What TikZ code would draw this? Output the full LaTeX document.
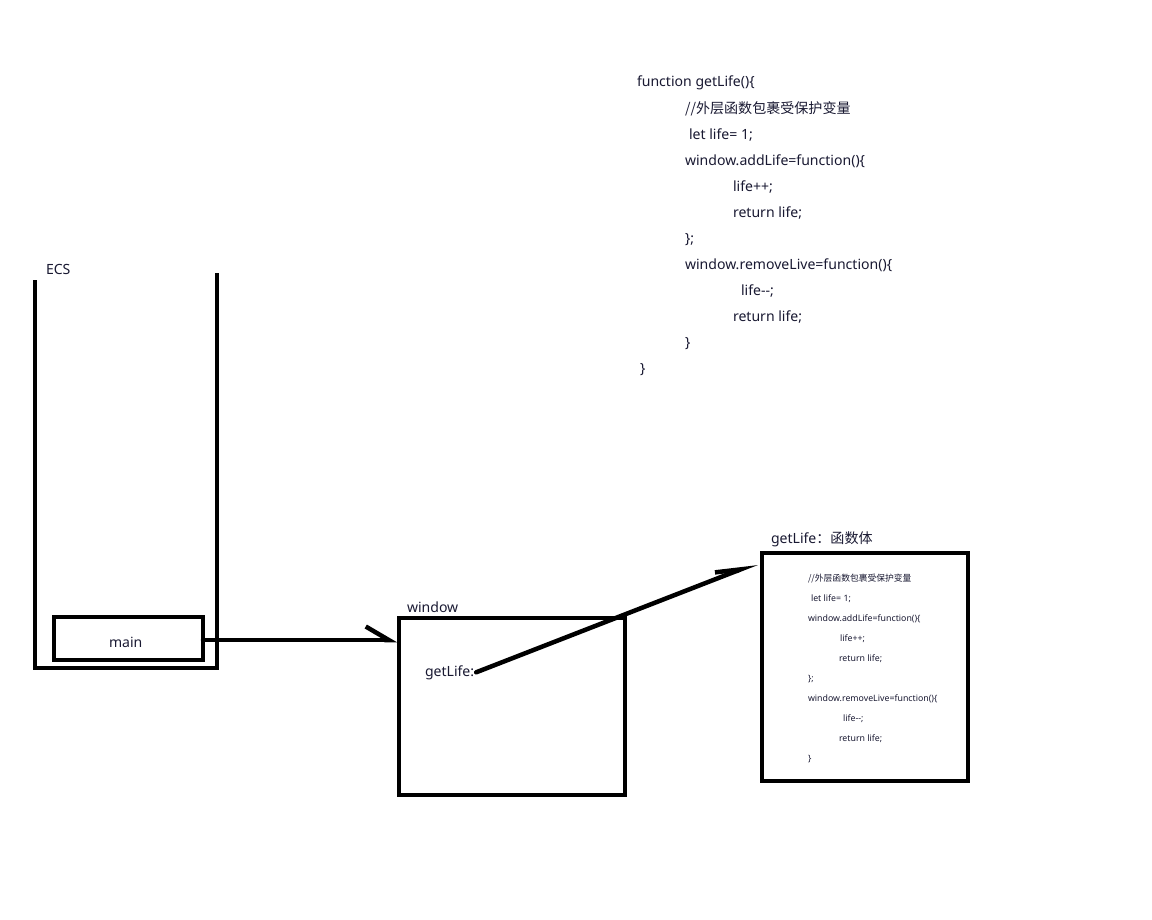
\documentclass[tikz,border=0pt]{standalone}
\usepackage{fontspec}
\setmainfont{Noto Sans}
\newfontfamily\cjk{Noto Sans CJK SC}
\usetikzlibrary{arrows.meta}
\definecolor{ink}{RGB}{25,25,50}

\begin{document}
\begin{tikzpicture}[
        x=0.02cm, y=-0.02cm,          % 1 unit = 1 pixel
        line width=0.08cm,
        box/.style={
            draw,
            rectangle,
            inner sep=0pt
        },
        txt/.style={anchor=base west, inner sep=0pt, text=ink, font=\fontsize{8}{9}\selectfont},
        mini/.style={txt, font=\fontsize{5}{6}\selectfont},
        arrow/.style={-{Straight Barb[harpoon, length=0.46cm, width=0.54cm]}, line cap=round, line width=0.09cm},
        slant/.style={-{Straight Barb[harpoon, length=0.50cm, width=0.26cm]}, line cap=round, line width=0.09cm}
    ]
        \useasboundingbox (0,0) rectangle (1152,919);

        % 栈
        \draw (35,280) -- (35,668) -- (217,668) -- (217,273);
        \node (ecs) [txt] at (44,274) {ECS};

        % 节点
        \node (main) [box, minimum width=2.98cm, minimum height=0.86cm] at (128.5,638) {};
        \node (mainlabel) [txt] at (107,647) {main};
        \node (window) [box, minimum width=4.52cm, minimum height=3.54cm] at (512,706.5) {};
        \node (winlabel) [txt] at (405,612) {window};
        \node (gl) [txt] at (423,676) {getLife:};
        \node (fn) [box, minimum width=4.12cm, minimum height=4.56cm] at (865,667) {};
        \node (fnlabel) [txt] at (769,543) {getLife{\cjk ：函数体}};
        \coordinate (maintail) at (203,640);
        \coordinate (fntip) at (757,563);

        % 代码
        \node (c1) [txt] at (635,87) {function getLife()\{};
        \node (c2) [txt] at (683,113) {\cjk //外层函数包裹受保护变量};
        \node (c3) [txt] at (687,139) {let life= 1;};
        \node (c4) [txt] at (683,165) {window.addLife=function()\{};
        \node (c5) [txt] at (731,191) {life++;};
        \node (c6) [txt] at (731,217) {return life;};
        \node (c7) [txt] at (683,243) {\};};
        \node (c8) [txt] at (683,269) {window.removeLive=function()\{};
        \node (c9) [txt] at (739,295) {life-{}-;};
        \node (c10) [txt] at (731,321) {return life;};
        \node (c11) [txt] at (683,347) {\}};
        \node (c12) [txt] at (638,373) {\}};

        % 函数体
        \node (m1) [mini] at (806,581) {\cjk //外层函数包裹受保护变量};
        \node (m2) [mini] at (809,601) {let life= 1;};
        \node (m3) [mini] at (806,621) {window.addLife=function()\{};
        \node (m4) [mini] at (838,641) {life++;};
        \node (m5) [mini] at (837,661) {return life;};
        \node (m6) [mini] at (806,681) {\};};
        \node (m7) [mini] at (806,701) {window.removeLive=function()\{};
        \node (m8) [mini] at (841,721) {life-{}-;};
        \node (m9) [mini] at (837,741) {return life;};
        \node (m10) [mini] at (806,761) {\}};

        % 边
        \draw[arrow] (maintail) -- (maintail -| window.west);
        \draw[slant] (gl.east) -- (fntip);
    \end{tikzpicture}
\end{document}
